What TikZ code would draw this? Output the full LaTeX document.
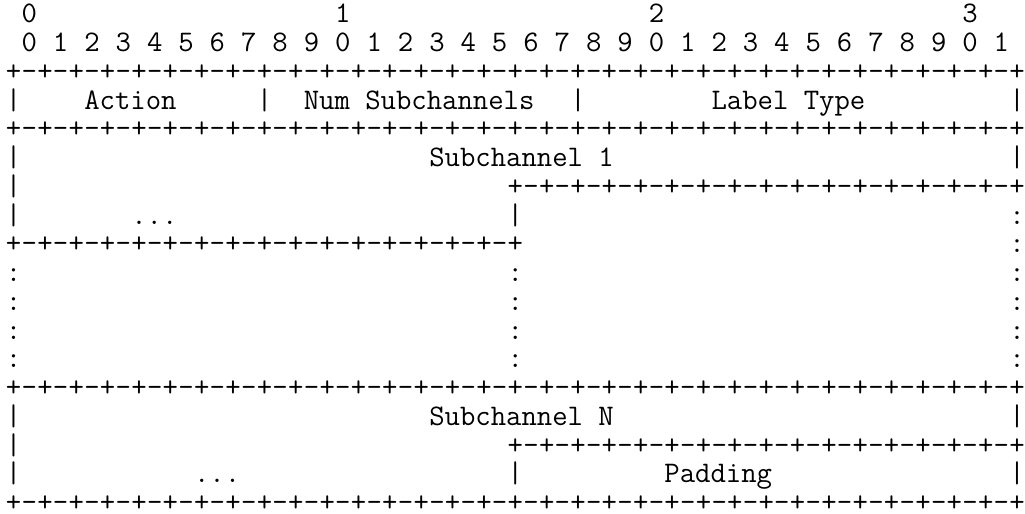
\documentclass[tikz,border=0pt]{standalone}
\usepackage{fontspec}
\newcommand{\asciifont}{\ttfamily\fontsize{14.93pt}{16pt}\selectfont}
\begin{document}
\begin{tikzpicture}[x=7.84pt, y=-14.375pt,
	ch/.style={anchor=base west, inner sep=0pt, font=\asciifont}]
	\useasboundingbox (0,0) rectangle (512.5pt,-257pt);
	\begin{scope}[shift={(2.75pt,2.975pt)}]
	% bit numbers
	\foreach \d/\c in {0/1, 1/21, 2/41, 3/61}
		\node[ch] (ten\d) at (\c,1) {\d};
	\foreach \i in {0,...,31} {
		\pgfmathtruncatemacro{\d}{mod(\i,10)}
		\node[ch] (bit\i) at (2*\i+1,2) {\d};
	}
	% +-+-+ rulers
	\foreach \r/\a/\b in {3/0/64, 5/0/64, 7/32/64, 9/0/32, 14/0/64, 16/32/64, 18/0/64}
		\foreach \c in {\a,...,\b} {
			\pgfmathtruncatemacro{\odd}{mod(\c,2)}
			\node[ch] (r\r c\c) at (\c,\r) {\ifnum\odd=1 -\else +\fi};
		}
	% field borders
	\foreach \r/\c in {4/0, 4/16, 4/36, 4/64, 6/0, 6/64, 7/0, 8/0, 8/32,
		15/0, 15/64, 16/0, 17/0, 17/32, 17/64}
		\node[ch] (bar\r c\c) at (\c,\r) {|};
	\foreach \r/\c in {8/64, 9/64, 10/0, 10/32, 10/64, 11/0, 11/32, 11/64,
		12/0, 12/32, 12/64, 13/0, 13/32, 13/64}
		\node[ch] (colon\r c\c) at (\c,\r) {:};
	% field names
	\node[ch] (action) at (5,4) {Action};
	\node[ch] (numsub) at (19,4) {Num Subchannels};
	\node[ch] (labeltype) at (45,4) {Label Type};
	\node[ch] (sub1) at (27,6) {Subchannel 1};
	\node[ch] (more1) at (8,8) {...};
	\node[ch] (subn) at (27,15) {Subchannel N};
	\node[ch] (moren) at (12,17) {...};
	\node[ch] (padding) at (42,17) {Padding};
	\end{scope}
\end{tikzpicture}
\end{document}
